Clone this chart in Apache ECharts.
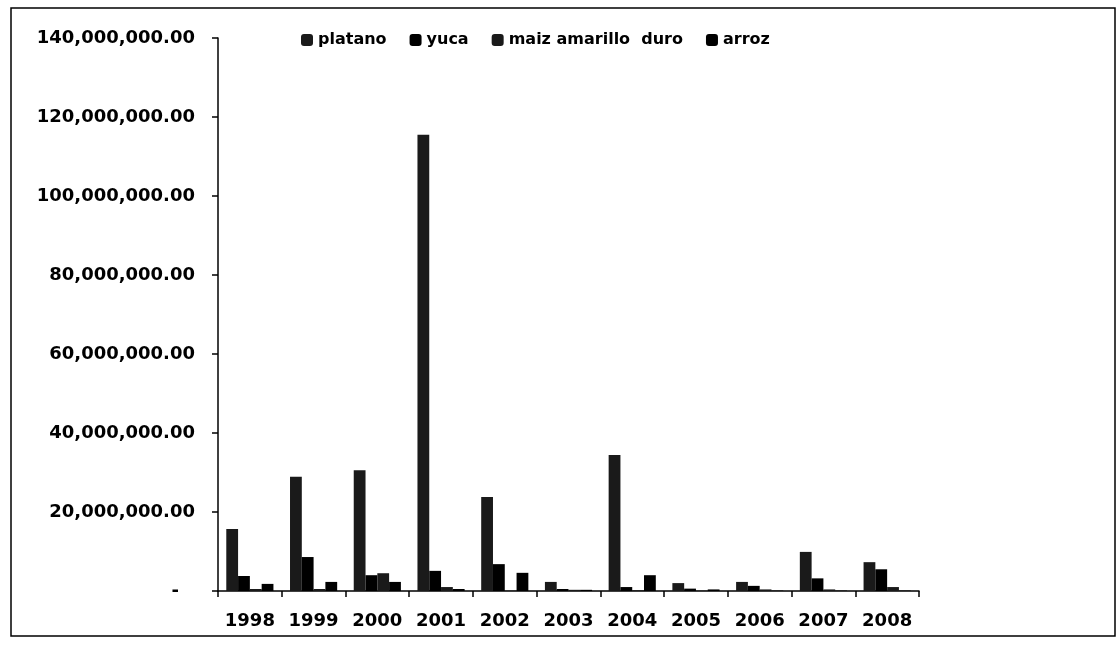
<!DOCTYPE html>
<html>
<head>
<meta charset="utf-8">
<script src="https://cdn.jsdelivr.net/npm/echarts@6/dist/echarts.min.js"></script>
<style>
  html, body { margin: 0; padding: 0; background: #fff; }
  #chart { width: 1120px; height: 646px; }
</style>
</head>
<body>
<div id="chart"></div>
<script>
// Annual values per crop, 1998–2008
const years = ['1998', '1999', '2000', '2001', '2002', '2003', '2004', '2005', '2006', '2007', '2008'];
const platano = [15700000, 28900000, 30600000, 115500000, 23800000, 2300000, 34400000, 2000000, 2300000, 9900000, 7300000];
const yuca = [3800000, 8600000, 4000000, 5100000, 6800000, 500000, 1000000, 600000, 1300000, 3200000, 5500000];
const maizAmarilloDuro = [500000, 500000, 4500000, 1000000, 100000, 300000, 200000, 100000, 400000, 400000, 1000000];
const arroz = [1800000, 2300000, 2300000, 500000, 4600000, 300000, 4000000, 400000, 100000, 100000, 100000];
const yTicks = { min: 0, max: 140000000, step: 20000000 };

const FONT = '"DejaVu Sans", "Liberation Sans", sans-serif';

function fmtMoney(v) {
  if (v === 0) return '{z|-}';
  return v.toLocaleString('en-US', { minimumFractionDigits: 2, maximumFractionDigits: 2 });
}

const chart = echarts.init(document.getElementById('chart'), null, { renderer: 'canvas' });

const barStyle = (color) => ({ color: color });

chart.setOption({
  backgroundColor: '#fff',
  animation: false,
  graphic: [{
    type: 'rect',
    shape: { x: 11, y: 8, width: 1104, height: 628 },
    style: { fill: 'none', stroke: '#000', lineWidth: 1.5 },
    silent: true
  }],
  legend: {
    left: 296,
    top: 27,
    itemWidth: 12,
    itemHeight: 12,
    itemGap: 23,
    icon: 'roundRect',
    textStyle: { fontFamily: FONT, fontWeight: 'bold', fontSize: 16, color: '#000' },
    data: ['platano', 'yuca', 'maiz amarillo  duro', 'arroz']
  },
  grid: { left: 218, right: 201, top: 38, bottom: 55, containLabel: false },
  xAxis: {
    type: 'category',
    data: years,
    axisLine: { lineStyle: { color: '#000', width: 1.5 } },
    axisTick: { show: true, length: 6, lineStyle: { color: '#000', width: 1.5 } },
    axisLabel: {
      interval: 0, hideOverlap: false,
      fontFamily: FONT, fontWeight: 'bold', fontSize: 18, color: '#000', margin: 21
    }
  },
  yAxis: {
    type: 'value',
    min: yTicks.min,
    max: yTicks.max,
    interval: yTicks.step,
    splitLine: { show: false },
    axisLine: { show: true, lineStyle: { color: '#000', width: 1.5 } },
    axisTick: { show: true, length: 6, lineStyle: { color: '#000', width: 1.5 } },
    axisLabel: {
      fontFamily: FONT, fontWeight: 'bold', fontSize: 18, color: '#000', margin: 23,
      formatter: fmtMoney,
      rich: { z: { fontFamily: FONT, fontWeight: 'bold', fontSize: 18, color: '#000', padding: [0, 16, 0, 0] } }
    }
  },
  series: [
    { name: 'platano', type: 'bar', data: platano, itemStyle: barStyle('#1a1a1a'), barGap: '0%', barCategoryGap: '26%' },
    { name: 'yuca', type: 'bar', data: yuca, itemStyle: barStyle('#000000') },
    { name: 'maiz amarillo  duro', type: 'bar', data: maizAmarilloDuro, itemStyle: barStyle('#1a1a1a') },
    { name: 'arroz', type: 'bar', data: arroz, itemStyle: barStyle('#000000') }
  ]
});
</script>
</body>
</html>
